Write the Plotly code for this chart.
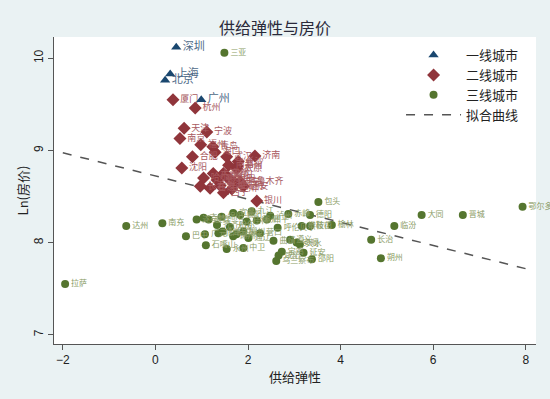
import plotly.graph_objects as go

# ---- data ----
tier1_names = ["深圳", "上海", "北京", "广州"]
tier1_x = [0.45, 0.32, 0.21, 0.99]
tier1_y = [10.12, 9.83, 9.76, 9.55]

tier2_names = ["厦门", "杭州", "天津", "宁波", "南京", "福州", "青岛", "海口", "合肥", "武汉",
               "济南", "长沙", "郑州", "沈阳", "大连", "成都", "南昌", "太原", "哈尔滨", "长春",
               "重庆", "昆明", "乌鲁木齐", "西安", "西宁", "南宁", "石家庄", "呼和浩特", "兰州", "银川",
               "贵阳"]
tier2_x = [0.38, 0.86, 0.62, 1.11, 0.53, 0.98, 1.24, 1.29, 0.80, 1.54,
           2.15, 1.79, 1.77, 0.57, 1.25, 1.47, 1.58, 1.76, 1.04, 0.97,
           1.33, 1.61, 1.83, 1.90, 1.47, 1.72, 1.18, 1.40, 1.65, 2.19,
           1.55]
tier2_y = [9.55, 9.46, 9.24, 9.20, 9.13, 9.06, 9.04, 8.98, 8.93, 8.93,
           8.94, 8.88, 8.83, 8.81, 8.75, 8.75, 8.84, 8.80, 8.70, 8.61,
           8.68, 8.68, 8.66, 8.61, 8.54, 8.65, 8.59, 8.62, 8.58, 8.45,
           8.72]

tier3_names = ["三亚", "拉萨", "达州", "南充", "巴中", "广元", "石嘴山", "永州", "中卫", "包头",
               "大同", "晋城", "鄂尔多斯", "临汾", "长治", "朔州", "泸州", "赤峰", "德阳", "呼伦贝尔",
               "攀枝花", "鞍山", "榆林", "乌兰察布", "邵阳", "遂宁", "宜宾", "绵阳", "宜昌", "襄阳",
               "九江", "赣州", "桂林", "柳州", "北海", "玉林", "通辽", "曲靖", "遵义", "安顺",
               "天水", "宝鸡", "咸阳", "延安", "吉林", "四平", "齐齐哈尔", "大庆", "牡丹江", "锦州",
               "营口"]
tier3_x = [1.49, -1.95, -0.63, 0.15, 0.66, 1.07, 1.09, 1.54, 1.90, 3.52,
           5.75, 6.64, 7.93, 5.16, 4.66, 4.87, 2.48, 2.87, 3.34, 2.64,
           3.16, 3.34, 3.81, 2.61, 3.38, 0.89, 1.15, 1.43, 1.68, 1.83,
           2.08, 2.19, 1.97, 1.90, 1.36, 1.75, 2.01, 2.55, 2.91, 3.05,
           3.12, 2.73, 2.66, 3.20, 1.04, 2.41, 1.33, 1.61, 1.45, 1.68,
           2.26]
tier3_y = [10.06, 7.55, 8.18, 8.21, 8.07, 8.09, 7.97, 7.93, 7.94, 8.44,
           8.30, 8.30, 8.39, 8.18, 8.03, 7.83, 8.29, 8.31, 8.30, 8.16,
           8.18, 8.18, 8.19, 7.80, 7.82, 8.25, 8.25, 8.28, 8.32, 8.30,
           8.34, 8.24, 8.23, 8.12, 8.10, 8.09, 8.05, 8.02, 8.03, 8.00,
           7.98, 7.90, 7.86, 7.89, 8.27, 8.25, 8.19, 8.17, 8.12, 8.07,
           8.10]

fit_x = [-2, 8]
fit_y = [8.974, 7.717]

x_ticks = [-2, 0, 2, 4, 6, 8]
y_ticks = [7, 8, 9, 10]

NAVY = "#1a476f"
MAROON = "#90353b"
GREEN = "#55752f"
FONT = "Noto Sans CJK SC, Liberation Sans, sans-serif"

fig = go.Figure()

fig.add_trace(go.Scatter(
    x=fit_x, y=fit_y, mode="lines", name="拟合曲线",
    line=dict(color="#555555", width=1.5, dash="dash"), legendrank=4))

fig.add_trace(go.Scatter(
    x=tier3_x, y=tier3_y, mode="markers+text", name="三线城市", text=tier3_names,
    textposition="middle right", textfont=dict(size=8, color="#8b9c66", family=FONT),
    marker=dict(symbol="circle", size=8, color=GREEN), legendrank=3, cliponaxis=False))

fig.add_trace(go.Scatter(
    x=tier2_x, y=tier2_y, mode="markers+text", name="二线城市", text=tier2_names,
    textposition="middle right", textfont=dict(size=9, color="#a85a5f", family=FONT),
    marker=dict(symbol="diamond", size=10, color=MAROON), legendrank=2))

fig.add_trace(go.Scatter(
    x=tier1_x, y=tier1_y, mode="markers+text", name="一线城市", text=tier1_names,
    textposition="middle right", textfont=dict(size=11, color="#4e6a88", family=FONT),
    marker=dict(symbol="triangle-up", size=9, color=NAVY), legendrank=1))

fig.update_layout(
    width=550, height=399,
    paper_bgcolor="#eaf2f3", plot_bgcolor="#ffffff",
    margin=dict(l=54, r=14, t=37, b=55, autoexpand=False),
    font=dict(family=FONT, color="#222222"),
    title=dict(text="供给弹性与房价", x=0.5, xanchor="center", y=0.93, yanchor="middle",
               font=dict(size=16, color="#2a2a3a")),
    showlegend=True,
    legend=dict(x=0.72, y=0.99, xanchor="left", yanchor="top",
                bgcolor="#ffffff", font=dict(size=13, color="#222222"),
                itemwidth=55, tracegroupgap=0),
    xaxis=dict(range=[-2.19, 8.22], tickvals=x_ticks, showgrid=False, zeroline=False,
               showline=True, linecolor="#555555", linewidth=1, automargin=False,
               ticks="outside", ticklen=5, tickcolor="#555555",
               tickfont=dict(size=12, family="Liberation Sans, Arial"),
               title=dict(text="供给弹性", font=dict(size=13), standoff=6)),
    yaxis=dict(range=[6.9, 10.23], tickvals=y_ticks, showgrid=False, zeroline=False,
               showline=True, linecolor="#555555", linewidth=1, automargin=False,
               ticks="outside", ticklen=5, tickcolor="#555555", tickangle=-90,
               tickfont=dict(size=12, family="Liberation Sans, Arial"),
               title=dict(text="Ln(房价)", font=dict(size=13), standoff=0)),
)

fig.write_html("out.html", config={"displayModeBar": False},
               post_script="document.body.style.margin='0';")
